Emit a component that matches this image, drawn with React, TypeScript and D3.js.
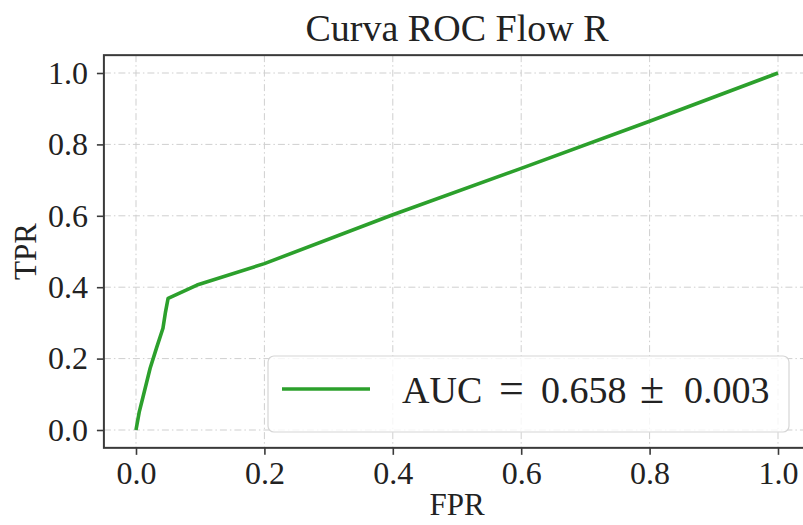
import React, { useEffect, useRef } from 'react';
import * as d3 from 'd3';

// valori
const fpr = [0, 0.005, 0.011, 0.022, 0.032, 0.042, 0.046, 0.05, 0.095, 0.2, 0.4, 0.6, 0.8, 1.0];
const tpr = [0, 0.05, 0.093, 0.173, 0.23, 0.285, 0.331, 0.369, 0.406, 0.466, 0.603, 0.733, 0.865, 1.0];
const ticks = [0, 0.2, 0.4, 0.6, 0.8, 1.0];
const title = 'Curva ROC Flow R';
const legendParts = ['AUC', '=', '0.658', '±', '0.003'];

const W = 803;
const H = 525;
const FONT = '"Liberation Serif", "Times New Roman", serif';
const GREEN = '#2ca02c';

const App = () => {
    const svgRef = useRef<SVGSVGElement>(null);

    useEffect(() => {
        const svg = d3.select(svgRef.current);
        svg.selectAll('*').remove();

        // scale: x(0)=136, x(1)=778 ; y(0)=430, y(1)=73
        const x = d3.scaleLinear().domain([0, 1]).range([136, 778]);
        const y = d3.scaleLinear().domain([0, 1]).range([430, 73]);
        const left = x(-0.05), right = x(1.05), top = y(1.05), bottom = y(-0.05);

        svg.append('rect').attr('width', W).attr('height', H).attr('fill', '#fff');

        // griglia
        const grid = svg.append('g')
            .attr('stroke', '#cfcfcf')
            .attr('stroke-width', 1)
            .attr('stroke-dasharray', '7,3,1.5,3');
        grid.selectAll('.gx').data(ticks).enter().append('line')
            .attr('x1', d => x(d)).attr('x2', d => x(d))
            .attr('y1', top).attr('y2', bottom);
        grid.selectAll('.gy').data(ticks).enter().append('line')
            .attr('x1', left).attr('x2', right)
            .attr('y1', d => y(d)).attr('y2', d => y(d));

        // curva
        const line = d3.line<number>()
            .x((d, i) => x(fpr[i]))
            .y(d => y(d));
        svg.append('path')
            .datum(tpr)
            .attr('d', line)
            .attr('fill', 'none')
            .attr('stroke', GREEN)
            .attr('stroke-width', 3.6)
            .attr('stroke-linejoin', 'round');

        // cornice
        svg.append('rect')
            .attr('x', left).attr('y', top)
            .attr('width', right - left).attr('height', bottom - top)
            .attr('fill', 'none')
            .attr('stroke', '#3a3a3a')
            .attr('stroke-width', 2);

        // assi
        const xAxis = d3.axisBottom(x).tickValues(ticks).tickFormat(d3.format('.1f')).tickSize(7).tickPadding(6);
        const yAxis = d3.axisLeft(y).tickValues(ticks).tickFormat(d3.format('.1f')).tickSize(7).tickPadding(9);

        const gx = svg.append('g').attr('transform', `translate(0,${bottom})`).call(xAxis);
        const gy = svg.append('g').attr('transform', `translate(${left},0)`).call(yAxis);
        [gx, gy].forEach(g => {
            g.select('.domain').remove();
            g.selectAll('.tick line').attr('stroke', '#3a3a3a').attr('stroke-width', 1.6);
            g.selectAll('.tick text')
                .attr('fill', '#222')
                .style('font-family', FONT)
                .style('font-size', '32px');
        });
        gx.selectAll('.tick text').attr('dy', '0.72em');

        // titolo ed etichette
        svg.append('text')
            .attr('x', (left + right) / 2).attr('y', 41)
            .attr('text-anchor', 'middle')
            .style('font-family', FONT).style('font-size', '38px')
            .attr('fill', '#222')
            .text(title);

        svg.append('text')
            .attr('x', (left + right) / 2).attr('y', 515)
            .attr('text-anchor', 'middle')
            .style('font-family', FONT).style('font-size', '31px')
            .attr('fill', '#222')
            .text('FPR');

        svg.append('text')
            .attr('transform', `translate(36,${(top + bottom) / 2}) rotate(-90)`)
            .attr('text-anchor', 'middle')
            .style('font-family', FONT).style('font-size', '31px')
            .attr('fill', '#222')
            .text('TPR');

        // legenda
        const lg = svg.append('g');
        lg.append('rect')
            .attr('x', 268).attr('y', 356)
            .attr('width', 521).attr('height', 76)
            .attr('rx', 6)
            .attr('fill', '#fff').attr('fill-opacity', 0.8)
            .attr('stroke', '#d6d6d6').attr('stroke-width', 1.2);
        lg.append('line')
            .attr('x1', 282).attr('x2', 370)
            .attr('y1', 389).attr('y2', 389)
            .attr('stroke', GREEN).attr('stroke-width', 3.6);
        const partX = [402, 499, 541, 640, 684];
        const partSize = [38, 44, 38, 44, 38];
        const lt = lg.append('text')
            .attr('y', 403)
            .style('font-family', FONT)
            .attr('fill', '#222');
        legendParts.forEach((p, i) => {
            lt.append('tspan')
                .attr('x', partX[i])
                .style('font-size', `${partSize[i]}px`)
                .text(p);
        });
    }, []);

    return (
        <svg
            ref={svgRef}
            width={W}
            height={H}
            style={{ position: 'absolute', left: 0, top: 0 }}
        />
    );
};

export default App;
